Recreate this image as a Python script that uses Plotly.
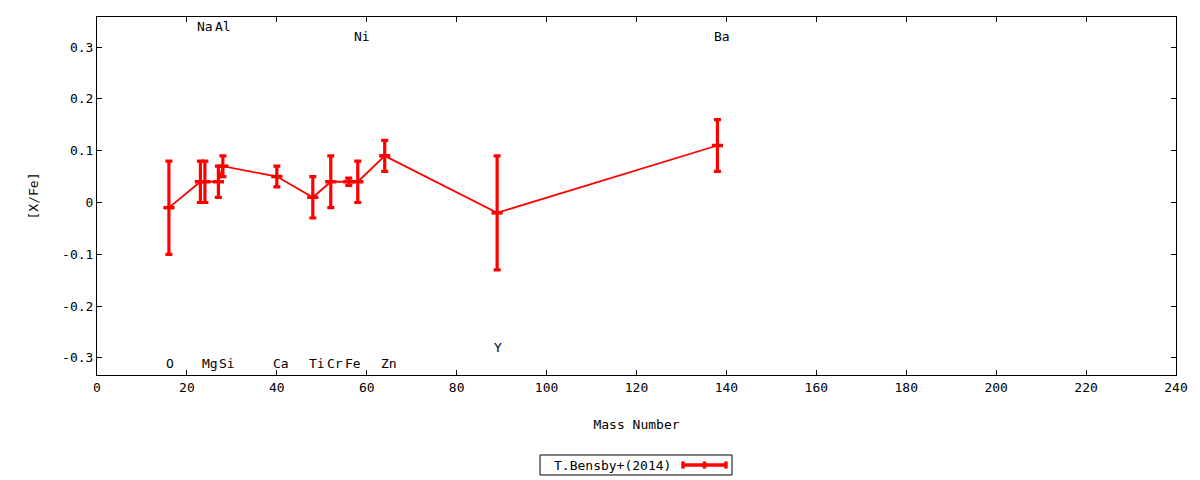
import plotly.graph_objects as go

# element abundances [X/Fe] vs. mass number
elements = ['O', 'Na', 'Mg', 'Al', 'Si', 'Ca', 'Ti', 'Cr', 'Fe', 'Ni', 'Zn', 'Y', 'Ba']
mass_numbers = [16, 23, 24, 27, 28, 40, 48, 52, 56, 58, 64, 89, 138]
x_fe = [-0.01, 0.04, 0.04, 0.04, 0.07, 0.05, 0.01, 0.04, 0.04, 0.04, 0.09, -0.02, 0.11]
x_fe_err = [0.09, 0.04, 0.04, 0.03, 0.02, 0.02, 0.04, 0.05, 0.007, 0.04, 0.03, 0.11, 0.05]
label_y = [-0.31, 0.34, -0.31, 0.34, -0.31, -0.31, -0.31, -0.31, -0.31, 0.32, -0.31, -0.28, 0.32]

y_ticks = [-0.3, -0.2, -0.1, 0, 0.1, 0.2, 0.3]
y_tick_labels = ['-0.3', '-0.2', '-0.1', '0', '0.1', '0.2', '0.3']

series_name = 'T.Bensby+(2014)'
red = '#ff0000'
font = dict(family='DejaVu Sans Mono', size=13, color='black')

fig = go.Figure()
fig.add_trace(go.Scatter(
    x=mass_numbers, y=x_fe, mode='lines+markers', name=series_name,
    line=dict(color=red, width=1.8),
    marker=dict(symbol='line-ew', size=8, line=dict(color=red, width=3.5)),
    error_y=dict(type='data', array=x_fe_err, color=red, thickness=3.2, width=3.5),
    showlegend=False,
))

# element names next to each point
for el, m, ly in zip(elements, mass_numbers, label_y):
    fig.add_annotation(x=m - 1.2, y=ly, text=el, showarrow=False,
                       xanchor='left', yanchor='middle', font=font)

axis = dict(showline=True, linecolor='black', linewidth=1, mirror='allticks',
            ticks='inside', ticklen=5, tickcolor='black', showgrid=False,
            zeroline=False, tickfont=font)

fig.update_xaxes(range=[0, 240], dtick=20, title=dict(text='Mass Number', font=font, standoff=26), **axis)
fig.update_yaxes(range=[-0.333, 0.358], tickvals=y_ticks, ticktext=y_tick_labels,
                 title=dict(text='[X/Fe]', font=font, standoff=20), **axis)

# gnuplot-style key: text first, sample on the right
fig.add_shape(type='rect', xref='paper', yref='paper', x0=0.4106, x1=0.5885,
              y0=-0.2793, y1=-0.2235, line=dict(color='black', width=1))
fig.add_annotation(xref='paper', yref='paper', x=0.4782, y=-0.2514, text=series_name,
                   showarrow=False, xanchor='center', yanchor='middle', font=font)
fig.add_shape(type='line', xref='paper', yref='paper', x0=0.5431, x1=0.5829,
              y0=-0.2514, y1=-0.2514, line=dict(color=red, width=3.5))
for cx in [0.5431, 0.5630, 0.5829]:
    fig.add_shape(type='line', xref='paper', yref='paper', x0=cx, x1=cx,
                  y0=-0.2614, y1=-0.2414, line=dict(color=red, width=3.5))

# the page body adds an 8px offset, so margins are trimmed to match
fig.update_layout(width=1200, height=480, plot_bgcolor='white', paper_bgcolor='white',
                  margin=dict(l=89, r=32, t=9, b=113), font=font)

fig.write_html("out.html")
